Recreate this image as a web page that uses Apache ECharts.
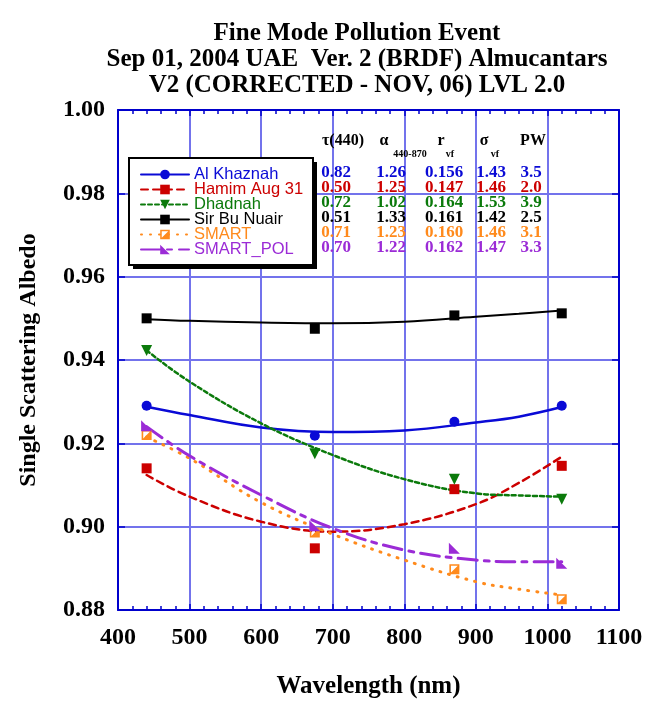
<!DOCTYPE html>
<html>
<head>
<meta charset="utf-8">
<script src="https://cdn.jsdelivr.net/npm/echarts@6/dist/echarts.min.js"></script>
<style>
  html, body { margin: 0; padding: 0; background: #fff; }
  #chart { width: 655px; height: 709px; }
</style>
</head>
<body>
<div id="chart"></div>
<script>
// measured points (markers)
var obsWavelengths = [440, 675, 870, 1020];
var alKhaznahObs = [0.929, 0.9218, 0.9252, 0.929];
var hamimObs = [0.914, 0.8948, 0.909, 0.9146];
var dhadnahObs = [0.9423, 0.9175, 0.9114, 0.9066];
var sirBuNuairObs = [0.950, 0.9475, 0.9507, 0.9512];
var smartObs = [0.922, 0.8986, 0.8898, 0.8826];
var smartPolObs = [0.9242, 0.9002, 0.8948, 0.8912];

// fitted curves
var fitWavelengths = [440, 500, 600, 700, 800, 900, 960, 1020];
var alKhaznahFit = [0.9288, 0.9268, 0.9238, 0.9227, 0.9231, 0.925, 0.9264, 0.9287];
var hamimFit = [0.9124, 0.9072, 0.9012, 0.8988, 0.9006, 0.9054, 0.9105, 0.9168];
var dhadnahFit = [0.9423, 0.9348, 0.9248, 0.9172, 0.9114, 0.908, 0.9075, 0.9072];
var sirBuNuairFit = [0.9498, 0.9494, 0.949, 0.9488, 0.9492, 0.9504, 0.9511, 0.9519];
var smartFit = [0.9215, 0.9164, 0.9058, 0.8982, 0.892, 0.8868, 0.885, 0.8836];
var smartPolFit = [0.924, 0.917, 0.9076, 0.8996, 0.8944, 0.892, 0.8916, 0.8916];

var siteNames = ['Al Khaznah', 'Hamim Aug 31', 'Dhadnah', 'Sir Bu Nuair', 'SMART', 'SMART_POL'];

// table of retrieved parameters
var tableHead = ['τ(440)', 'α', 'r', 'σ', 'PW'];
var tableHeadSub = ['', '440-870', 'vf', 'vf', ''];
var tableRows = [
    ['0.82', '1.26', '0.156', '1.43', '3.5'],
    ['0.50', '1.25', '0.147', '1.46', '2.0'],
    ['0.72', '1.02', '0.164', '1.53', '3.9'],
    ['0.51', '1.33', '0.161', '1.42', '2.5'],
    ['0.71', '1.23', '0.160', '1.46', '3.1'],
    ['0.70', '1.22', '0.162', '1.47', '3.3']
];

var colors = ['#0a0ad6', '#cc0000', '#0b7a0b', '#000000', '#ff8a1c', '#9b2bd6'];
var serif = '"Liberation Serif", "Times New Roman", serif';
var axisBlue = '#0000cc';
var gridBlue = '#7373ec';

// orange half filled square, purple right triangle
var halfSquare = 'path://M0 0L10 0L10 10L0 10Z M1.6 1.6L1.6 8.4L8.4 8.4L8.4 1.6Z M8.4 1.6L8.4 8.4L1.6 8.4Z';
var rightTri = 'path://M0 0L0 10L10 10Z';

var fits = [alKhaznahFit, hamimFit, dhadnahFit, sirBuNuairFit, smartFit, smartPolFit];
var obs = [alKhaznahObs, hamimObs, dhadnahObs, sirBuNuairObs, smartObs, smartPolObs];
var symbols = ['circle', 'rect', 'triangle', 'rect', halfSquare, rightTri];
var symbolRot = [0, 0, 180, 0, 0, 0];
var symbolSizes = [10, 10, 11, 10, 10, 11];
var lineTypes = ['solid', [7, 5], [4, 3], 'solid', [1, 8], [19, 7, 5, 7]];
var lineWidths = [2.5, 2.5, 2.5, 2, 3, 3];

function pairs(xs, ys) {
    return xs.map(function (x, i) { return [x, ys[i]]; });
}

var series = [];
// curves first so the legend icon takes line + symbol
for (var i = 0; i < siteNames.length; i++) {
    series.push({
        name: siteNames[i],
        type: 'line',
        smooth: 0.4,
        showSymbol: false,
        symbol: symbols[i],
        symbolRotate: symbolRot[i],
        color: colors[i],
        lineStyle: { color: colors[i], width: lineWidths[i], type: lineTypes[i], cap: 'round' },
        itemStyle: { color: colors[i] },
        data: pairs(fitWavelengths, fits[i]),
        z: 3
    });
}
for (var j = 0; j < siteNames.length; j++) {
    series.push({
        name: siteNames[j],
        type: 'scatter',
        symbol: symbols[j],
        symbolRotate: symbolRot[j],
        symbolSize: symbolSizes[j],
        itemStyle: { color: colors[j], opacity: 1 },
        data: pairs(obsWavelengths, obs[j]),
        z: 4
    });
}

var graphics = [];
// legend frame with its offset shadow
graphics.push({ type: 'rect', z: 3, shape: { x: 133, y: 162, width: 184, height: 107 }, style: { fill: '#000' } });
graphics.push({ type: 'rect', z: 3, shape: { x: 129, y: 158, width: 184, height: 107 }, style: { fill: '#fff', stroke: '#000', lineWidth: 2 } });

// table text
var colX = [336, 391, 444, 491, 531];
var headX = [343, 384, 441, 484, 533];
var subX = [0, 410, 450, 495, 0];
var rowY = [173, 188, 203, 218, 233, 248];
for (var c = 0; c < tableHead.length; c++) {
    graphics.push({
        type: 'text', x: headX[c], y: 141, z: 10,
        style: { text: tableHead[c], fill: '#000', fontFamily: serif, fontWeight: 'bold', fontSize: 16, align: 'center', verticalAlign: 'middle' }
    });
    if (tableHeadSub[c]) {
        graphics.push({
            type: 'text', x: subX[c], y: 154, z: 10,
            style: { text: tableHeadSub[c], fill: '#000', fontFamily: serif, fontWeight: 'bold', fontSize: 10, align: 'center', verticalAlign: 'middle' }
        });
    }
}
for (var r = 0; r < tableRows.length; r++) {
    for (var k = 0; k < tableRows[r].length; k++) {
        graphics.push({
            type: 'text', x: colX[k], y: rowY[r], z: 10,
            style: { text: tableRows[r][k], fill: colors[r], fontFamily: serif, fontWeight: 'bold', fontSize: 17, align: 'center', verticalAlign: 'middle' }
        });
    }
}

var myChart = echarts.init(document.getElementById('chart'), null, { renderer: 'canvas' });

var option = {
    animation: false,
    backgroundColor: '#fff',
    title: {
        text: 'Fine Mode Pollution Event\nSep 01, 2004 UAE  Ver. 2 (BRDF) Almucantars\nV2 (CORRECTED - NOV, 06) LVL 2.0',
        left: 352,
        textAlign: 'center',
        top: 16,
        textStyle: { fontFamily: serif, fontWeight: 'bold', fontSize: 25, lineHeight: 26, color: '#000' }
    },
    legend: {
        data: siteNames.map(function (n, i) { return { name: n, textStyle: { color: colors[i] } }; }),
        orient: 'vertical',
        left: 129,
        top: 158,
        itemWidth: 48,
        itemHeight: 12,
        itemGap: -2,
        padding: [8, 10, 7, 11],
        backgroundColor: 'transparent',
        borderWidth: 0,
        z: 5,
        textStyle: { fontFamily: '"Liberation Sans", Arial, sans-serif', fontSize: 16.5, lineHeight: 15 }
    },
    grid: { left: 118, right: 36, top: 110, bottom: 99 },
    xAxis: [{
        type: 'value',
        min: 400, max: 1100, interval: 100,
        position: 'bottom',
        name: 'Wavelength (nm)',
        nameLocation: 'middle',
        nameGap: 64,
        nameTextStyle: { fontFamily: serif, fontWeight: 'bold', fontSize: 25, color: '#000' },
        axisLine: { show: true, lineStyle: { color: axisBlue, width: 2 } },
        axisTick: { show: true, inside: true, length: 6, lineStyle: { color: axisBlue, width: 1.5 } },
        minorTick: { show: true, splitNumber: 5, length: 4, lineStyle: { color: axisBlue, width: 1.5 } },
        axisLabel: {
            color: '#000', fontFamily: serif, fontWeight: 'bold', fontSize: 24, margin: 16,
            formatter: function (v) { return String(v); }
        },
        splitLine: { show: true, lineStyle: { color: gridBlue, width: 2 } }
    }, {
        type: 'value',
        min: 400, max: 1100, interval: 100,
        position: 'top',
        axisLine: { show: true, lineStyle: { color: axisBlue, width: 2 } },
        axisTick: { show: true, inside: true, length: 6, lineStyle: { color: axisBlue, width: 1.5 } },
        minorTick: { show: true, splitNumber: 5, length: 4, lineStyle: { color: axisBlue, width: 1.5 } },
        axisLabel: { show: false },
        splitLine: { show: false }
    }],
    yAxis: [{
        type: 'value',
        min: 0.88, max: 1.00, interval: 0.02,
        position: 'left',
        name: 'Single Scattering Albedo',
        nameLocation: 'middle',
        nameRotate: 90,
        nameGap: 77,
        nameTextStyle: { fontFamily: serif, fontWeight: 'bold', fontSize: 24, color: '#000' },
        axisLine: { show: true, lineStyle: { color: axisBlue, width: 2 } },
        axisTick: { show: true, inside: true, length: 7, lineStyle: { color: axisBlue, width: 1.5 } },
        axisLabel: {
            color: '#000', fontFamily: serif, fontWeight: 'bold', fontSize: 24, margin: 13,
            formatter: function (v) { return v.toFixed(2); }
        },
        splitLine: { show: true, lineStyle: { color: gridBlue, width: 2 } }
    }, {
        type: 'value',
        min: 0.88, max: 1.00, interval: 0.02,
        position: 'right',
        axisLine: { show: true, lineStyle: { color: axisBlue, width: 2 } },
        axisTick: { show: true, inside: true, length: 7, lineStyle: { color: axisBlue, width: 1.5 } },
        axisLabel: { show: false },
        splitLine: { show: false }
    }],
    graphic: graphics,
    series: series
};

myChart.setOption(option);
</script>
</body>
</html>
